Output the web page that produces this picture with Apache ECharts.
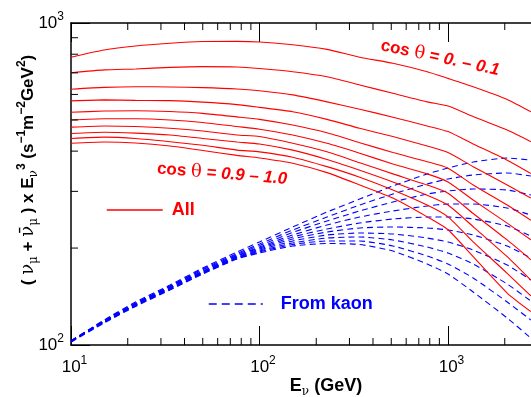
<!DOCTYPE html>
<html>
<head>
<meta charset="utf-8">
<script src="https://cdn.jsdelivr.net/npm/echarts@6/dist/echarts.min.js"></script>
<style>
html,body{margin:0;padding:0;background:#ffffff;}
#chart{width:531px;height:397px;}
</style>
</head>
<body>
<div id="chart"></div>
<script>
// Neutrino energy (GeV) sample points
const energyGeV = [10, 15, 22, 33.5, 50, 76, 100, 150, 228, 340, 510, 775, 1000, 1360, 2060, 2750];

// All (nu_mu + nu_mu-bar) x E^3, cos theta bins 0.0-0.1 ... 0.9-1.0
const all_cos00_01 = [783, 824, 848, 865, 876, 877, 873, 856, 828, 783, 750, 706, 673, 634, 579, 530];
const all_cos01_02 = [701, 715, 720, 728, 732, 730, 722, 706, 681, 642, 605, 569, 552, 512, 465, 428];
const all_cos02_03 = [623, 631, 634, 633, 630, 624, 616, 598, 569, 540, 510, 479, 460, 421, 375, 341];
const all_cos03_04 = [573, 577, 575, 574, 568, 558, 547, 530, 502, 471, 444, 415, 396, 358, 314, 286];
const all_cos04_05 = [528, 533, 534, 531, 524, 511, 502, 482, 456, 425, 396, 371, 354, 314, 272, 244];
const all_cos05_06 = [500, 504, 504, 500, 491, 477, 468, 449, 423, 394, 365, 340, 321, 282, 239, 212];
const all_cos06_07 = [475, 479, 477, 471, 462, 449, 444, 423, 398, 368, 340, 314, 296, 256, 212, 184];
const all_cos07_08 = [454, 458, 455, 449, 438, 427, 421, 403, 377, 349, 321, 292, 272, 233, 188, 159];
const all_cos08_09 = [438, 442, 438, 428, 417, 403, 398, 383, 358, 332, 303, 272, 250, 209, 167, 142];
const all_cos09_10 = [423, 427, 424, 415, 402, 388, 381, 367, 343, 314, 286, 250, 228, 188, 145, 127];

// From kaon contribution, same bins
const kaon_cos00_01 = [103, 119.6, 136, 153.6, 173.4, 194.5, 208.9, 232.5, 258.8, 284, 311.7, 339.7, 354.5, 370.1, 380.8, 375.3];
const kaon_cos01_02 = [103, 119.2, 135, 152.5, 172.2, 192.4, 205.9, 227.6, 249.7, 272.1, 294.3, 316.2, 327.7, 337.3, 342.2, 334.8];
const kaon_cos02_03 = [103, 118.7, 134.6, 152.0, 171.0, 191.0, 203.7, 223.6, 242.7, 260.8, 278.0, 294.3, 300.8, 305.1, 303.0, 292.3];
const kaon_cos03_04 = [103, 118.7, 134.1, 151.4, 169.7, 189.7, 201.5, 219.6, 235.9, 249.7, 260.8, 270.2, 274.1, 274.1, 266.4, 253.3];
const kaon_cos04_05 = [103, 118.3, 133.6, 150.9, 169.1, 189.0, 200.1, 216.5, 229.2, 239.3, 246.2, 249.7, 249.7, 246.2, 234.2, 218.0];
const kaon_cos05_06 = [103, 118.3, 133.1, 150.3, 168.5, 187.6, 198.7, 213.4, 224.3, 230.9, 232.5, 230.9, 227.6, 219.6, 203.0, 186.3];
const kaon_cos06_07 = [103, 117.9, 133.1, 149.8, 167.9, 186.9, 197.2, 210.4, 219.6, 222.7, 221.2, 214.9, 208.9, 197.2, 177.2, 159.2];
const kaon_cos07_08 = [102.2, 117.9, 132.7, 149.3, 167.3, 186.3, 195.8, 207.4, 214.9, 216.5, 211.9, 201.5, 193.1, 178.5, 154.7, 137.0];
const kaon_cos08_09 = [102.2, 117.5, 132.2, 148.8, 166.7, 185.6, 194.5, 205.2, 210.4, 210.4, 203.0, 189.0, 178.5, 161.5, 136.0, 119.6];
const kaon_cos09_10 = [102.2, 117.1, 131.8, 148.2, 166.1, 185.0, 193.1, 203.0, 206.7, 205.2, 195.8, 178.5, 166.1, 146.1, 121.3, 105.1];

// Axis ranges and minor tick values
const X_MIN = 10, X_MAX = 2756, Y_MIN = 100, Y_MAX = 1000;
const xMinorTicks = [20, 30, 40, 50, 60, 70, 80, 90, 200, 300, 400, 500, 600, 700, 800, 900, 2000];
const yMinorTicks = [200, 300, 400, 500, 600, 700, 800, 900];

const allCurves = [all_cos00_01, all_cos01_02, all_cos02_03, all_cos03_04, all_cos04_05,
                   all_cos05_06, all_cos06_07, all_cos07_08, all_cos08_09, all_cos09_10];
const kaonCurves = [kaon_cos00_01, kaon_cos01_02, kaon_cos02_03, kaon_cos03_04, kaon_cos04_05,
                    kaon_cos05_06, kaon_cos06_07, kaon_cos07_08, kaon_cos08_09, kaon_cos09_10];

const RED = '#ff0000', BLUE = '#0000ff';
const SANS = 'Liberation Sans, Arial, sans-serif';
const SERIF = 'DejaVu Serif, Liberation Serif, serif';

const series = [];
kaonCurves.forEach(arr => series.push({
  type: 'line', name: 'From kaon', xAxisIndex: 0, yAxisIndex: 0,
  data: energyGeV.map((e, i) => [e, arr[i]]),
  symbol: 'none', smooth: 0.2, silent: true, z: 2,
  lineStyle: { color: BLUE, width: 1.1, type: [6, 4] },
  itemStyle: { color: BLUE }
}));
allCurves.forEach(arr => series.push({
  type: 'line', name: 'All', xAxisIndex: 0, yAxisIndex: 0,
  data: energyGeV.map((e, i) => [e, arr[i]]),
  symbol: 'none', smooth: 0.2, silent: true, z: 3,
  lineStyle: { color: RED, width: 1.1 },
  itemStyle: { color: RED }
}));

// minor ticks (log positions 2..9) drawn through the axis scales
series.push({
  type: 'custom', coordinateSystem: 'cartesian2d', xAxisIndex: 0, yAxisIndex: 0,
  silent: true, clip: false, z: 5,
  data: xMinorTicks.map(v => [v, Y_MIN]),
  renderItem: function (params, api) {
    const v = api.value(0);
    const pb = api.coord([v, Y_MIN]);
    const pt = api.coord([v, Y_MAX]);
    return { type: 'group', children: [
      { type: 'line', shape: { x1: pb[0], y1: pb[1], x2: pb[0], y2: pb[1] - 7 }, style: { stroke: '#000', lineWidth: 1 } },
      { type: 'line', shape: { x1: pt[0], y1: pt[1], x2: pt[0], y2: pt[1] + 7 }, style: { stroke: '#000', lineWidth: 1 } }
    ]};
  }
});
series.push({
  type: 'custom', coordinateSystem: 'cartesian2d', xAxisIndex: 0, yAxisIndex: 0,
  silent: true, clip: false, z: 5,
  data: yMinorTicks.map(v => [X_MIN, v]),
  renderItem: function (params, api) {
    const v = api.value(1);
    const p = api.coord([X_MIN, v]);
    return { type: 'line', shape: { x1: p[0], y1: p[1], x2: p[0] + 7, y2: p[1] }, style: { stroke: '#000', lineWidth: 1 } };
  }
});

function powLabel(v) {
  const e = Math.round(Math.log10(v));
  return '{b|10}{s|' + e + '}';
}

const chart = echarts.init(document.getElementById('chart'), null, { renderer: 'canvas' });
chart.setOption({
  animation: false,
  backgroundColor: '#ffffff',
  grid: { left: 71, right: 0, top: 23, bottom: 52, containLabel: false },
  xAxis: [
    {
      type: 'log', logBase: 10, min: X_MIN, max: X_MAX, position: 'bottom',
      axisLine: { show: true, lineStyle: { color: '#000', width: 1.5 } },
      axisTick: { show: true, inside: true, length: 19, lineStyle: { color: '#000', width: 1 } },
      splitLine: { show: false },
      axisLabel: {
        show: true, margin: 10, showMaxLabel: false, formatter: powLabel,
        rich: {
          b: { fontSize: 17, fontFamily: SANS, color: '#000', lineHeight: 24, padding: [0, 0, 0, 7] },
          s: { fontSize: 12, fontFamily: SANS, color: '#000', lineHeight: 12, verticalAlign: 'top' }
        }
      }
    },
    {
      type: 'log', logBase: 10, min: X_MIN, max: X_MAX, position: 'top',
      axisLine: { show: true, lineStyle: { color: '#000', width: 1.5 } },
      axisTick: { show: true, inside: true, length: 19, lineStyle: { color: '#000', width: 1 } },
      splitLine: { show: false },
      axisLabel: { show: false }
    }
  ],
  yAxis: [
    {
      type: 'log', logBase: 10, min: Y_MIN, max: Y_MAX, position: 'left',
      axisLine: { show: true, lineStyle: { color: '#000', width: 1.5 } },
      axisTick: { show: true, inside: true, length: 19, lineStyle: { color: '#000', width: 1 } },
      splitLine: { show: false },
      axisLabel: {
        show: true, margin: 7, formatter: powLabel,
        rich: {
          b: { fontSize: 17, fontFamily: SANS, color: '#000', lineHeight: 24 },
          s: { fontSize: 12, fontFamily: SANS, color: '#000', lineHeight: 12, verticalAlign: 'top' }
        }
      }
    }
  ],
  legend: [
    {
      data: ['All'], left: 106, top: 201, orient: 'horizontal', padding: 0,
      itemWidth: 56, itemHeight: 14, selectedMode: false,
      itemStyle: { opacity: 0 },
      lineStyle: { width: 1.5 },
      textStyle: { color: RED, fontSize: 18, fontWeight: 'bold', fontFamily: SANS, padding: [0, 0, 0, 4] }
    },
    {
      data: ['From kaon'], left: 208, top: 295, orient: 'horizontal', padding: 0,
      itemWidth: 54, itemHeight: 14, selectedMode: false,
      itemStyle: { opacity: 0 },
      lineStyle: { width: 1.5, type: [8, 5] },
      textStyle: { color: BLUE, fontSize: 18, fontWeight: 'bold', fontFamily: SANS, padding: [0, 0, 0, 13] }
    }
  ],
  graphic: [
    {
      type: 'text', x: 28, y: 170, rotation: Math.PI / 2, silent: true,
      style: {
        text: '{p|( }{g|ν}{gs|μ}{p| + }{g|ν̄}{gs|μ}{p| ) x E}{gs|ν}{sp|3}{p| (s}{sp|−1}{p|m}{sp|−2}{p|GeV}{sp|2}{p|)}',
        align: 'center', verticalAlign: 'middle', textAlign: 'center', textVerticalAlign: 'middle',
        rich: {
          p: { fontSize: 17, fontWeight: 'bold', fontFamily: SANS, fill: '#000', lineHeight: 24 },
          g: { fontSize: 18, fontWeight: 'normal', fontFamily: SERIF, fill: '#000', lineHeight: 24 },
          gs: { fontSize: 12, fontWeight: 'normal', fontFamily: SERIF, fill: '#000', lineHeight: 12, verticalAlign: 'bottom' },
          sp: { fontSize: 12, fontWeight: 'bold', fontFamily: SANS, fill: '#000', lineHeight: 12, verticalAlign: 'top' }
        }
      }
    },
    {
      type: 'text', x: 326, y: 386, silent: true,
      style: {
        text: '{p|E}{gs|ν}{p| (GeV)}',
        align: 'center', verticalAlign: 'middle', textAlign: 'center', textVerticalAlign: 'middle',
        rich: {
          p: { fontSize: 18, fontWeight: 'bold', fontFamily: SANS, fill: '#000', lineHeight: 24 },
          gs: { fontSize: 12, fontWeight: 'normal', fontFamily: SERIF, fill: '#000', lineHeight: 12, verticalAlign: 'bottom' }
        }
      }
    },
    {
      type: 'text', x: 440, y: 58, rotation: -0.21, silent: true,
      style: {
        text: '{c|cos }{t|θ}{n| = 0. – 0.1}',
        align: 'center', verticalAlign: 'middle', textAlign: 'center', textVerticalAlign: 'middle',
        rich: {
          c: { fontSize: 17, fontWeight: 'bold', fontFamily: SANS, fill: RED, lineHeight: 22 },
          t: { fontSize: 18, fontWeight: 'normal', fontFamily: SERIF, fill: RED, lineHeight: 22 },
          n: { fontSize: 17, fontWeight: 'bold', fontStyle: 'italic', fontFamily: SANS, fill: RED, lineHeight: 22 }
        }
      }
    },
    {
      type: 'text', x: 222, y: 174, rotation: -0.08, silent: true,
      style: {
        text: '{c|cos }{t|θ}{n| = 0.9 – 1.0}',
        align: 'center', verticalAlign: 'middle', textAlign: 'center', textVerticalAlign: 'middle',
        rich: {
          c: { fontSize: 17, fontWeight: 'bold', fontFamily: SANS, fill: RED, lineHeight: 22 },
          t: { fontSize: 18, fontWeight: 'normal', fontFamily: SERIF, fill: RED, lineHeight: 22 },
          n: { fontSize: 17, fontWeight: 'bold', fontStyle: 'italic', fontFamily: SANS, fill: RED, lineHeight: 22 }
        }
      }
    }
  ],
  series: series
});
</script>
</body>
</html>
